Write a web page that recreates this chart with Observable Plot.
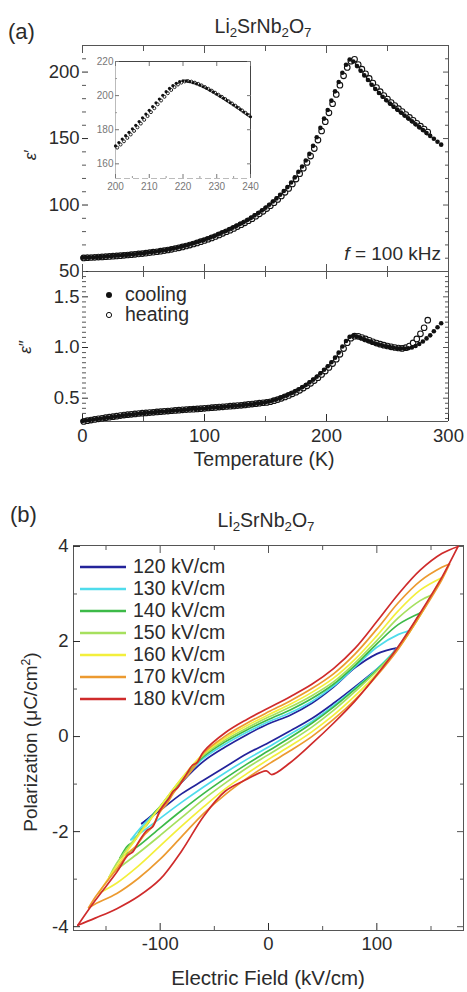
<!DOCTYPE html>
<html><head><meta charset="utf-8">
<script src="https://cdn.jsdelivr.net/npm/d3@7"></script>
<script src="https://cdn.jsdelivr.net/npm/@observablehq/plot@0.6"></script>
<style>
body{margin:0;background:#fff;}
#root{position:relative;width:467px;height:992px;overflow:hidden;font-family:"Liberation Sans",Arial,Helvetica,sans-serif;color:#2b2b2b;background:#fff;}
#root svg{position:absolute;left:0;top:0;}
.t{position:absolute;white-space:nowrap;line-height:1;}
.t sub{font-size:0.68em;vertical-align:-0.3em;line-height:0;}
</style></head><body><div id="root"></div>
<script>
// ---------- Panel (a): dielectric constant, f = 100 kHz ----------
const coolT = [0,3,6,9,12,15,18,21,24,27,30,33,36,39,42,45,48,51,54,57,60,63,66,69,72,75,78,81,84,87,90,93,96,99,102,105,108,111,114,117,120,123,126,129,132,135,138,141,144,147,150,153,156,159,162,165,168,171,174,177,180,183,186,189,192,195,198,201,204,207,210,213,216,219,222,225,228,231,234,237,240,243,246,249,252,255,258,261,264,267,270,273,276,279,282,285,288,291,294];
const coolEps1 = [60.3,60.4,60.6,60.7,60.9,61.0,61.2,61.4,61.6,61.8,
62.0,62.3,62.5,62.7,63.0,63.3,63.6,63.9,64.3,64.6,
65.0,65.4,65.9,66.3,66.9,67.5,68.0,68.7,69.4,70.1,
71.0,71.8,72.7,73.6,74.6,75.6,76.7,77.9,79.1,80.3,
81.5,82.9,84.3,85.7,87.1,88.7,90.3,92.2,94.0,95.9,
98.0,100.2,102.6,105.0,107.7,110.5,113.5,117.0,120.8,125.0,
129.0,133.5,138.5,144.5,151.0,158.0,165.0,171.5,178.5,185.5,
192.5,199.5,205.5,209.5,208.0,204.5,201.0,197.5,194.0,190.5,
187.3,184.3,181.5,178.8,176.3,174.0,171.8,169.6,167.4,165.2,
163.0,160.8,158.6,156.4,154.2,152.0,149.8,147.6,145.4];
const coolEps2 = [0.275,0.28,0.285,0.29,0.295,0.30,0.305,0.31,0.315,0.32,
0.325,0.33,0.334,0.338,0.342,0.346,0.35,0.353,0.356,0.36,
0.363,0.366,0.369,0.372,0.375,0.378,0.381,0.384,0.387,0.392,
0.395,0.393,0.396,0.399,0.402,0.405,0.408,0.411,0.414,0.417,
0.42,0.423,0.426,0.429,0.432,0.436,0.44,0.444,0.449,0.454,
0.46,0.468,0.478,0.49,0.503,0.517,0.532,0.548,0.565,0.585,
0.607,0.63,0.656,0.683,0.712,0.745,0.78,0.815,0.855,0.9,
0.95,1.01,1.065,1.105,1.115,1.108,1.095,1.08,1.066,1.053,
1.04,1.03,1.02,1.012,1.005,0.998,0.993,0.99,0.99,0.993,
1.0,1.015,1.035,1.06,1.09,1.12,1.16,1.2,1.24];

const heatT = [1,4,7,10,13,16,19,22,25,28,31,34,37,40,43,46,49,52,55,58,61,64,67,70,73,76,79,82,85,88,91,94,97,100,103,106,109,112,115,118,121,124,127,130,133,136,139,142,145,148,151,154,157,160,163,166,169,172,175,178,181,184,187,190,193,196,199,202,205,208,211,214,217,220,223,226,229,232,235,238,241,244,247,250,253,256,259,262,265,268,271,274,277,280,283];
const heatEps1 = [60.2,60.37,60.53,60.67,60.83,60.97,61.13,61.33,61.53,61.73,
61.93,62.2,62.43,62.63,62.9,63.2,63.5,63.8,64.17,64.5,
64.87,65.27,65.73,66.17,66.7,67.3,67.83,68.47,69.17,69.87,
70.7,71.53,72.4,73.3,74.27,75.27,76.33,77.5,78.7,79.9,
81.1,82.43,83.83,85.23,86.63,88.17,89.77,91.57,93.4,95.27,
97.3,99.47,101.8,104.2,106.8,109.57,112.5,115.83,119.53,123.6,
127.67,132.0,136.83,142.5,148.83,155.67,162.67,169.33,176.17,183.17,
190.17,197.17,203.5,208.17,209.6,205.7,202.2,198.7,195.2,191.7,
188.4,185.3,182.4,179.7,177.1,174.8,172.5,170.3,168.1,165.9,
163.7,161.5,159.3,157.1,154.9];
const heatEps2 = [0.27,0.278,0.284,0.29,0.296,0.302,0.308,0.313,0.318,0.323,
0.328,0.333,0.337,0.341,0.345,0.349,0.352,0.355,0.358,0.361,
0.364,0.367,0.37,0.373,0.376,0.379,0.382,0.385,0.388,0.39,
0.392,0.394,0.397,0.4,0.403,0.406,0.409,0.412,0.415,0.418,
0.421,0.424,0.427,0.43,0.434,0.438,0.442,0.446,0.451,0.455,
0.458,0.465,0.475,0.486,0.499,0.512,0.527,0.543,0.559,0.578,
0.6,0.622,0.647,0.674,0.702,0.734,0.768,0.803,0.842,0.885,
0.933,0.99,1.047,1.092,1.112,1.11,1.099,1.085,1.071,1.057,
1.044,1.033,1.023,1.015,1.007,1.0,0.995,0.991,0.998,1.015,
1.045,1.085,1.135,1.195,1.27];

// inset (200-240 K)
const insetCoolT = [200,201,202,203,204,205,206,207,208,209,210,211,212,213,214,215,216,217,218,219,220,221,222,223,224,225,226,227,228,229,230,231,232,233,234,235,236,237,238,239,240];
const insetCoolEps = [170.5,172.5,174.5,176.5,178.5,180.5,182.6,184.8,187.0,189.2,191.4,193.6,195.8,198.0,200.2,202.3,204.2,205.8,207.2,208.2,208.7,208.6,208.2,207.6,206.9,206.1,205.2,204.2,203.1,202.0,200.8,199.6,198.4,197.1,195.8,194.5,193.2,191.8,190.4,189.0,187.6];
const insetHeatT = [200.5,201.5,202.5,203.5,204.5,205.5,206.5,207.5,208.5,209.5,210.5,211.5,212.5,213.5,214.5,215.5,216.5,217.5,218.5,219.5,220.5,221.5,222.5,223.5,224.5,225.5,226.5,227.5,228.5,229.5,230.5,231.5,232.5,233.5,234.5,235.5,236.5,237.5,238.5,239.5];
const insetHeatEps = [169.5,171.3,173.2,175.2,177.2,179.3,181.4,183.6,185.8,188.0,190.3,192.6,194.9,197.1,199.3,201.4,203.3,205.0,206.5,207.6,208.3,208.5,208.2,207.6,206.9,206.0,205.0,204.0,202.9,201.7,200.5,199.3,198.0,196.7,195.4,194.1,192.7,191.3,189.9,188.5];

// tick values
const tMajor = [0,100,200,300];
const tMinor = [50,150,250];
const eps1Major = [50,100,150,200];
const eps1Minor = [60,70,80,90,110,120,130,140,160,170,180,190,210,220];
const eps2Major = [0.5,1.0,1.5];
const eps2Minor = [0.3,0.35,0.4,0.45,0.55,0.6,0.65,0.7,0.75,0.8,0.85,0.9,0.95,1.05,1.1,1.15,1.2,1.25,1.3,1.35,1.4,1.45,1.55,1.6,1.65,1.7,1.75];
const insetXMajor = [200,210,220,230,240];
const insetXMinor = [205,215,225,235];
const insetYMajor = [160,180,200,220];
const insetYMinor = [170,190,210];

// ---------- Panel (b): P-E loops (up = field decreasing, dn = field increasing) ----------
const fields = ["120 kV/cm","130 kV/cm","140 kV/cm","150 kV/cm","160 kV/cm","170 kV/cm","180 kV/cm"];
const loopColors = ["#23239a","#4fdcec","#3dba48","#a6e05e","#f3ef3c","#ec9a30","#cf2b2b"];

const E120 = [-117,-100,-80,-60,-40,-20,0,20,40,60,80,100,110,118];
const up120 = [-1.83,-1.5,-0.96,-0.52,-0.22,0.04,0.27,0.45,0.7,1.04,1.45,1.74,1.82,1.86];
const dn120 = [-1.83,-1.55,-1.2,-0.92,-0.64,-0.36,-0.13,0.12,0.38,0.7,1.05,1.42,1.62,1.86];

const E130 = [-127,-120,-100,-80,-60,-40,-20,0,20,40,60,80,100,120,129];
const up130 = [-2.17,-1.97,-1.48,-0.92,-0.46,-0.16,0.09,0.31,0.5,0.74,1.06,1.47,1.88,2.15,2.22];
const dn130 = [-2.17,-2.06,-1.72,-1.38,-1.06,-0.76,-0.48,-0.22,0.05,0.32,0.65,1.02,1.42,1.9,2.22];

const Eu140 = [-137,-130,-124,-118,-112,-106,-100,-80,-60,-40,-20,0,20,40,60,80,100,120,140];
const up140 = [-2.55,-2.3,-2.2,-1.97,-1.85,-1.62,-1.47,-0.9,-0.42,-0.11,0.14,0.36,0.56,0.8,1.1,1.5,1.95,2.36,2.6];
const Ed140 = [-137,-120,-100,-80,-60,-40,-20,0,20,40,60,80,100,120,140];
const dn140 = [-2.55,-2.3,-1.92,-1.55,-1.2,-0.88,-0.58,-0.3,-0.02,0.28,0.62,1.0,1.4,1.88,2.6];

const E150 = [-147,-140,-120,-100,-80,-60,-40,-20,0,20,40,60,80,100,120,140,150];
const up150 = [-2.95,-2.66,-2.05,-1.47,-0.88,-0.39,-0.07,0.18,0.41,0.62,0.86,1.15,1.55,2.02,2.5,2.86,2.97];
const dn150 = [-2.95,-2.8,-2.45,-2.08,-1.7,-1.32,-0.98,-0.66,-0.38,-0.1,0.2,0.55,0.95,1.38,1.88,2.55,2.97];

const E160 = [-157,-140,-120,-100,-80,-60,-40,-20,0,20,40,60,80,100,120,140,159];
const up160 = [-3.3,-2.72,-2.08,-1.48,-0.87,-0.36,-0.03,0.23,0.46,0.68,0.93,1.23,1.63,2.12,2.65,3.08,3.33];
const dn160 = [-3.3,-3.08,-2.72,-2.3,-1.88,-1.48,-1.1,-0.78,-0.48,-0.2,0.1,0.45,0.86,1.32,1.86,2.55,3.33];

const Eu170 = [-166,-160,-140,-128,-122,-115,-108,-100,-94,-88,-80,-74,-68,-60,-40,-20,0,20,40,60,80,100,120,140,160,167];
const up170 = [-3.6,-3.38,-2.78,-2.42,-2.3,-2.08,-1.92,-1.58,-1.42,-1.2,-0.95,-0.8,-0.62,-0.35,0.01,0.28,0.52,0.75,1.01,1.32,1.74,2.26,2.82,3.27,3.56,3.63];
const Ed170 = [-166,-160,-140,-120,-100,-80,-60,-40,-20,0,20,40,60,80,100,120,140,160,167];
const dn170 = [-3.6,-3.52,-3.3,-2.98,-2.58,-2.1,-1.62,-1.22,-0.88,-0.58,-0.3,0.0,0.36,0.78,1.28,1.85,2.55,3.3,3.63];

const Eu180 = [-176,-160,-140,-130,-125,-120,-112,-107,-100,-92,-88,-84,-76,-70,-66,-60,-40,-20,0,20,40,60,80,100,120,140,160,175];
const up180 = [-3.97,-3.45,-2.85,-2.5,-2.42,-2.22,-1.97,-1.9,-1.55,-1.3,-1.15,-1.08,-0.8,-0.6,-0.55,-0.32,0.08,0.36,0.6,0.84,1.1,1.43,1.86,2.42,3.0,3.5,3.85,4.0];
const Ed180 = [-176,-160,-140,-120,-100,-80,-60,-40,-20,-2,3,20,40,60,80,100,120,140,160,175];
const dn180 = [-3.97,-3.82,-3.62,-3.36,-3.0,-2.4,-1.68,-1.15,-0.9,-0.72,-0.8,-0.55,-0.15,0.28,0.75,1.3,1.9,2.6,3.35,4.0];

const eMajor = [-100,0,100];
const eMinor = [-150,-50,50,150];
const pMajor = [-4,-2,0,2,4];
const pMinor = [-3,-1,1,3];

// ================= drawing =================
const FF = '"Liberation Sans", Arial, Helvetica, sans-serif';
const TXT = "#2b2b2b", AX = "#555";
const root = document.getElementById("root");
const blank = () => "";

function mk(opts) {
  return Plot.plot(Object.assign({
    width: 467, height: 992,
    style: {background: "transparent", overflow: "visible", fontFamily: FF, color: TXT}
  }, opts));
}
function ax(fn, data, o) { return fn(data, Object.assign({label: null}, o)); }

// upper panel of (a): eps'
const aTop = mk({
  marginTop: 45, marginBottom: 721, marginLeft: 82, marginRight: 19,
  x: {domain: [0, 300]}, y: {domain: [50, 220]},
  marks: [
    Plot.ruleY([220], {stroke: AX}),
    Plot.ruleY([50], {stroke: AX}),
    Plot.ruleX([300], {stroke: AX}),
    ax(Plot.axisY, eps1Major, {anchor: "left", tickSize: -6, tickPadding: 9, fontSize: 18.5, color: TXT}),
    ax(Plot.axisY, eps1Minor, {anchor: "left", tickSize: -4, tickFormat: blank, color: AX}),
    ax(Plot.axisY, eps1Major, {anchor: "right", tickSize: -6, tickFormat: blank, color: AX}),
    ax(Plot.axisY, eps1Minor, {anchor: "right", tickSize: -4, tickFormat: blank, color: AX}),
    ax(Plot.axisX, tMajor, {anchor: "top", tickSize: -7, tickFormat: blank, color: AX}),
    ax(Plot.axisX, tMinor, {anchor: "top", tickSize: -5, tickFormat: blank, color: AX}),
    ax(Plot.axisX, tMajor, {anchor: "bottom", tickSize: -7, tickFormat: blank, color: AX}),
    ax(Plot.axisX, tMinor, {anchor: "bottom", tickSize: -5, tickFormat: blank, color: AX}),
    Plot.dot(heatT, {x: heatT, y: heatEps1, r: 2.8, fill: "#fff", stroke: "#111", strokeWidth: 1.1}),
    Plot.dot(coolT, {x: coolT, y: coolEps1, r: 2.3, fill: "#111", stroke: "none"})
  ]
});

// lower panel of (a): eps''
const aBot = mk({
  marginTop: 271, marginBottom: 571, marginLeft: 82, marginRight: 19,
  x: {domain: [0, 300]}, y: {domain: [0.27, 1.75]},
  marks: [
    Plot.ruleY([0.27], {stroke: AX}),
    Plot.ruleX([300], {stroke: AX}),
    ax(Plot.axisY, eps2Major, {anchor: "left", tickSize: -6, tickPadding: 9, fontSize: 18.5, tickFormat: d3.format(".1f"), color: TXT}),
    ax(Plot.axisY, eps2Minor, {anchor: "left", tickSize: -4, tickFormat: blank, color: AX}),
    ax(Plot.axisY, eps2Major, {anchor: "right", tickSize: -6, tickFormat: blank, color: AX}),
    ax(Plot.axisY, eps2Minor, {anchor: "right", tickSize: -4, tickFormat: blank, color: AX}),
    ax(Plot.axisX, tMajor, {anchor: "top", tickSize: -7, tickFormat: blank, color: AX}),
    ax(Plot.axisX, tMinor, {anchor: "top", tickSize: -5, tickFormat: blank, color: AX}),
    ax(Plot.axisX, tMajor, {anchor: "bottom", tickSize: -7, tickPadding: 14, fontSize: 18.5, color: TXT}),
    ax(Plot.axisX, tMinor, {anchor: "bottom", tickSize: -5, tickFormat: blank, color: AX}),
    Plot.dot(heatT, {x: heatT, y: heatEps2, r: 2.8, fill: "#fff", stroke: "#111", strokeWidth: 1.1}),
    Plot.dot(coolT, {x: coolT, y: coolEps2, r: 2.3, fill: "#111", stroke: "none"})
  ]
});

// inset
const aIns = mk({
  marginTop: 61, marginBottom: 814, marginLeft: 115, marginRight: 217,
  x: {domain: [200, 240]}, y: {domain: [151.4, 220]},
  marks: [
    Plot.ruleY([220], {stroke: "#444"}),
    Plot.ruleX([240], {stroke: "#444"}),
    Plot.ruleX([200], {stroke: "#bbb"}),
    Plot.ruleY([151.4], {stroke: "#bbb", strokeDasharray: "6,3"}),
    ax(Plot.axisY, insetYMajor, {anchor: "left", tickSize: -4, tickPadding: 6, fontSize: 10, color: "#777"}),
    ax(Plot.axisY, insetYMinor, {anchor: "left", tickSize: -2, tickFormat: blank, color: "#999"}),
    ax(Plot.axisY, insetYMajor, {anchor: "right", tickSize: -4, tickFormat: blank, color: "#777"}),
    ax(Plot.axisX, insetXMajor, {anchor: "bottom", tickSize: -4, tickPadding: 8, fontSize: 10, color: "#777"}),
    ax(Plot.axisX, insetXMinor, {anchor: "bottom", tickSize: -2, tickFormat: blank, color: "#999"}),
    ax(Plot.axisX, insetXMajor, {anchor: "top", tickSize: -4, tickFormat: blank, color: "#777"}),
    Plot.dot(insetHeatT, {x: insetHeatT, y: insetHeatEps, r: 1.5, fill: "#fff", stroke: "#111", strokeWidth: 0.9}),
    Plot.dot(insetCoolT, {x: insetCoolT, y: insetCoolEps, r: 1.6, fill: "#111", stroke: "none"})
  ]
});

// panel (b)
const loops = [
  {Eu: E120, up: up120, Ed: E120, dn: dn120},
  {Eu: E130, up: up130, Ed: E130, dn: dn130},
  {Eu: Eu140, up: up140, Ed: Ed140, dn: dn140},
  {Eu: E150, up: up150, Ed: E150, dn: dn150},
  {Eu: E160, up: up160, Ed: E160, dn: dn160},
  {Eu: Eu170, up: up170, Ed: Ed170, dn: dn170},
  {Eu: Eu180, up: up180, Ed: Ed180, dn: dn180}
];
const pf = d => String(d);
const bPlot = mk({
  marginTop: 545, marginBottom: 62, marginLeft: 73, marginRight: 4,
  x: {domain: [-180, 180]}, y: {domain: [-4.08, 4.02]},
  marks: [
    Plot.frame({stroke: AX}),
    ax(Plot.axisY, pMajor, {anchor: "left", tickSize: -7, tickPadding: 12, fontSize: 18.5, tickFormat: pf, color: TXT}),
    ax(Plot.axisY, pMinor, {anchor: "left", tickSize: -4, tickFormat: blank, color: AX}),
    ax(Plot.axisY, pMajor, {anchor: "right", tickSize: -7, tickFormat: blank, color: AX}),
    ax(Plot.axisY, pMinor, {anchor: "right", tickSize: -4, tickFormat: blank, color: AX}),
    ax(Plot.axisX, eMajor, {anchor: "bottom", tickSize: -7, tickPadding: 13, fontSize: 18.5, tickFormat: pf, color: TXT}),
    ax(Plot.axisX, eMinor, {anchor: "bottom", tickSize: -4, tickFormat: blank, color: AX}),
    ax(Plot.axisX, eMajor, {anchor: "top", tickSize: -7, tickFormat: blank, color: AX}),
    ax(Plot.axisX, eMinor, {anchor: "top", tickSize: -4, tickFormat: blank, color: AX}),
    loops.map((L, k) => [
      Plot.line(L.Ed, {x: L.Ed, y: L.dn, stroke: loopColors[k], strokeWidth: 1.7, curve: "catmull-rom"}),
      Plot.line(L.Eu, {x: L.Eu, y: L.up, stroke: loopColors[k], strokeWidth: 1.7, curve: "catmull-rom"})
    ])
  ]
});

root.append(aTop, aBot, aIns, bPlot);

// ---------- HTML text ----------
function txt(html, x, cy, fs, align, extra) {
  const d = document.createElement("div");
  d.className = "t";
  d.innerHTML = html;
  d.style.fontSize = fs + "px";
  d.style.top = (cy - 0.5 * fs) + "px";
  if (align === "center") { d.style.left = x + "px"; d.style.transform = "translateX(-50%)"; }
  else if (align === "right") { d.style.right = (467 - x) + "px"; }
  else { d.style.left = x + "px"; }
  if (extra) Object.assign(d.style, extra);
  root.append(d);
  return d;
}
function vtxt(html, cx, cy, fs, extra) {
  const d = document.createElement("div");
  d.className = "t";
  d.innerHTML = html;
  d.style.fontSize = fs + "px";
  d.style.left = cx + "px";
  d.style.top = cy + "px";
  d.style.transform = "translate(-50%,-50%) rotate(-90deg)";
  if (extra) Object.assign(d.style, extra);
  root.append(d);
}
const formula = "Li<sub>2</sub>SrNb<sub>2</sub>O<sub>7</sub>";
txt("(a)", 8, 32, 22, "left");
txt(formula, 263, 27, 19.5, "center");
txt("<i>f</i> = 100 kHz", 441, 253, 19, "right");
txt('<svg width="8" height="8" style="vertical-align:middle"><circle cx="4" cy="4" r="3" fill="#111"/></svg>', 105, 295, 8, "left");
txt('<svg width="8" height="8" style="vertical-align:middle"><circle cx="4" cy="4" r="2.6" fill="#fff" stroke="#111" stroke-width="1"/></svg>', 105, 315, 8, "left");
txt("cooling", 125, 295, 19.5, "left");
txt("heating", 125, 315, 19.5, "left");
vtxt("<i>ε</i>′", 30, 155, 17);
vtxt("<i>ε</i>″", 25, 347, 17);
txt("Temperature (K)", 264, 460, 19.5, "center");

txt("(b)", 10, 515, 22, "left");
txt(formula, 266, 521, 19.5, "center");
vtxt("Polarization (μC/cm<sup style='font-size:0.65em'>2</sup>)", 30, 742, 19);
txt("Electric Field (kV/cm)", 268, 978, 20.5, "center");
fields.forEach((f, i) => {
  const cy = 567 + i * 22;
  txt(`<svg width="46" height="6" style="vertical-align:middle"><line x1="0" y1="3" x2="46" y2="3" stroke="${loopColors[i]}" stroke-width="2.6"/></svg>`, 80, cy, 6, "left");
  txt(f, 133, cy, 19.5, "left");
});
</script></body></html>
